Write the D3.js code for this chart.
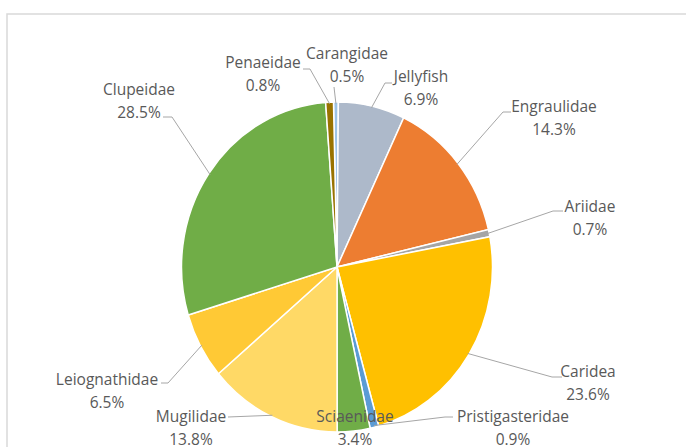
<!DOCTYPE html>
<html>
<head>
<meta charset="utf-8">
<script src="https://cdn.jsdelivr.net/npm/d3@7"></script>
<style>
  body { margin: 0; background: #fff; }
  svg text { font-family: "Open Sans", "Liberation Sans", sans-serif; font-size: 15.5px; fill: #595959; }
</style>
</head>
<body>
<div id="chart"></div>
<script>
// data (percent of catch)
const categories = ["Carangidae", "Jellyfish", "Engraulidae", "Ariidae", "Caridea", "Pristigasteridae",
  "Sciaenidae", "Mugilidae", "Leiognathidae", "Clupeidae", "Penaeidae"]
const shares = [0.5, 6.9, 14.3, 0.7, 23.6, 0.9, 3.4, 13.8, 6.5, 28.5, 0.8]
const sliceColors = ["#9DC3E6", "#ADB9CA", "#ED7D31", "#A5A5A5", "#FFC000", "#5B9BD5",
  "#70AD47", "#FFD966", "#FFC935", "#70AD47", "#997300"]

// label layout: text centre, baseline of first line, leader line points (label side)
const labelPos = {
  "Carangidae":       {x: 347, y: 59,  line: [[334, 87]]},
  "Penaeidae":        {x: 263, y: 68,  line: [[303, 69], [310, 69]]},
  "Jellyfish":        {x: 421, y: 82,  line: [[392, 83], [385, 83]]},
  "Engraulidae":      {x: 554, y: 112, line: [[511, 112], [503, 112]]},
  "Ariidae":          {x: 590, y: 212, line: [[563, 211], [553, 211]]},
  "Caridea":          {x: 588, y: 377, line: [[562, 377], [552, 377]]},
  "Pristigasteridae": {x: 513, y: 422, line: [[453, 417], [445, 417]]},
  "Sciaenidae":       {x: 355, y: 422, line: []},
  "Mugilidae":        {x: 191, y: 422, line: [[228, 417]]},
  "Leiognathidae":    {x: 107, y: 385, line: [[161, 383], [168, 383]]},
  "Clupeidae":        {x: 139, y: 95,  line: [[163, 117], [172, 117]]}
}

const width = 686, height = 447
const cx = 337, cy = 267, rx = 155.5, ry = 165
const start = -1.3 * Math.PI / 180

const svg = d3.select("#chart")
  .append("svg")
    .attr("width", width)
    .attr("height", height)

// chart area border
svg.append("rect")
  .attr("x", 7).attr("y", 14)
  .attr("width", 720).attr("height", 500)
  .attr("fill", "none")
  .attr("stroke", "#D9D9D9")
  .attr("stroke-width", 1.5)

const data = categories.map((c, i) => ({name: c, value: shares[i], color: sliceColors[i]}))

const pie = d3.pie().sort(null).value(d => d.value)
  .startAngle(start).endAngle(start + 2 * Math.PI)
const arcs = pie(data)
const arc = d3.arc().innerRadius(0).outerRadius(rx)

const pieG = svg.append("g")
  .attr("transform", `translate(${cx},${cy}) scale(1,${ry / rx})`)

pieG.selectAll("path")
  .data(arcs)
  .join("path")
    .attr("d", arc)
    .attr("fill", d => d.data.color)
    .attr("stroke", "#fff")
    .attr("stroke-width", 1.5)
    .attr("vector-effect", "non-scaling-stroke")

// leader lines
const edgePoint = d => {
  const a = (d.startAngle + d.endAngle) / 2
  return [cx + rx * 0.99 * Math.sin(a), cy - ry * 0.99 * Math.cos(a)]
}

svg.append("g")
  .selectAll("polyline")
  .data(arcs.filter(d => labelPos[d.data.name].line.length))
  .join("polyline")
    .attr("points", d => labelPos[d.data.name].line.concat([edgePoint(d)]).map(p => p.join(",")).join(" "))
    .attr("fill", "none")
    .attr("stroke", "#A6A6A6")
    .attr("stroke-width", 1)

// labels
const labels = svg.append("g")
  .selectAll("text")
  .data(arcs)
  .join("text")
    .attr("text-anchor", "middle")
    .attr("x", d => labelPos[d.data.name].x)
    .attr("y", d => labelPos[d.data.name].y)

labels.append("tspan").text(d => d.data.name)
labels.append("tspan")
  .attr("x", d => labelPos[d.data.name].x)
  .attr("dy", 23)
  .text(d => d3.format(".1f")(d.data.value) + "%")
</script>
</body>
</html>
